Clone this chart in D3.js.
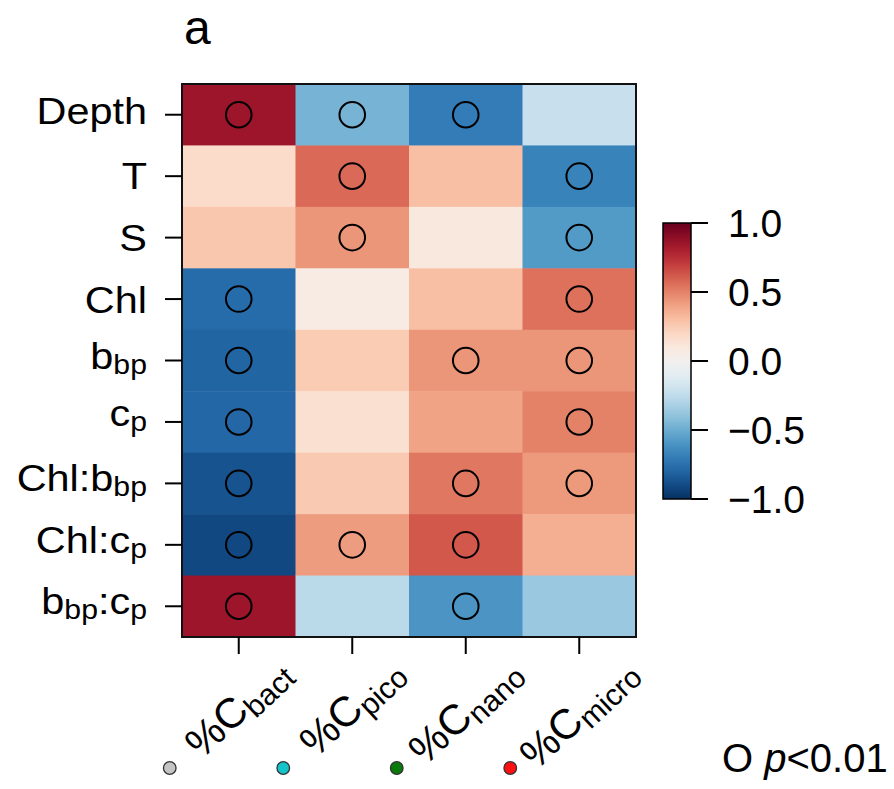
<!DOCTYPE html>
<html><head><meta charset="utf-8">
<script src="https://cdn.jsdelivr.net/npm/d3@7"></script>
<style>body{margin:0;background:#fff}svg{display:block}text{font-family:"Liberation Sans",Arial,sans-serif;fill:#000}</style>
</head><body><svg id="c" width="894" height="789"></svg>
<script>
const rowLabels = [["Depth"],["T"],["S"],["Chl"],["b","bp"],["c","p"],["Chl:b","bp"],["Chl:c","p"],["b","bp",":c","p"]];
const rowIds = ["Depth","T","S","Chl","bbp","cp","Chl:bbp","Chl:cp","bbp:cp"];
const cols = ["bact","pico","nano","micro"];
const colDots = ["#c4c4c4","#14c4c8","#0a7a0a","#ff1010"];
const vBact  = [0.85, 0.18, 0.27, -0.77, -0.80, -0.79, -0.87, -0.91, 0.85];
const vPico  = [-0.47, 0.57, 0.44, 0.07, 0.25, 0.15, 0.26, 0.42, -0.27];
const vNano  = [-0.70, 0.30, 0.10, 0.30, 0.44, 0.40, 0.53, 0.62, -0.60];
const vMicro = [-0.22, -0.67, -0.57, 0.55, 0.44, 0.50, 0.43, 0.36, -0.37];
const sigBact  = [1,0,0,1,1,1,1,1,1];
const sigPico  = [1,1,1,0,0,0,0,1,0];
const sigNano  = [1,0,0,0,1,0,1,1,1];
const sigMicro = [0,1,1,1,1,1,1,0,0];
const cbTicks = [1.0, 0.5, 0.0, -0.5, -1.0];

const vals = [vBact, vPico, vNano, vMicro];
const sigs = [sigBact, sigPico, sigNano, sigMicro];
const cells = [];
cols.forEach((c,j)=>rowIds.forEach((r,i)=>cells.push({r,c,v:vals[j][i],s:sigs[j][i]})));

const FONT = '"Liberation Sans",Arial,sans-serif';
const ctx = document.createElement("canvas").getContext("2d");
function glyph(txt,size){ ctx.font = size+"px "+FONT; const m=ctx.measureText(txt); return {a:m.actualBoundingBoxAscent,d:m.actualBoundingBoxDescent}; }

const svg = d3.select("#c");
const X0=182, X1=636, Y0=84, Y1=637;
const x = d3.scaleBand().domain(cols).range([X0,X1]);
const y = d3.scaleBand().domain(rowIds).range([Y0,Y1]);
const color = d3.scaleSequential(t=>d3.interpolateRdBu(t)).domain([1,-1]);

svg.append("text").attr("x",184).attr("y",44).attr("font-size",48).text("a");

svg.append("g").selectAll("rect").data(cells).join("rect")
  .attr("x",d=>x(d.c)).attr("y",d=>y(d.r)).attr("width",x.bandwidth()+0.5).attr("height",y.bandwidth()+0.5)
  .attr("fill",d=>color(d.v));
svg.append("g").selectAll("circle").data(cells.filter(d=>d.s)).join("circle")
  .attr("cx",d=>x(d.c)+x.bandwidth()/2).attr("cy",d=>y(d.r)+y.bandwidth()/2).attr("r",12.8)
  .attr("fill","none").attr("stroke","#000").attr("stroke-width",2);
svg.append("rect").attr("x",X0).attr("y",Y0).attr("width",X1-X0).attr("height",Y1-Y0)
  .attr("fill","none").attr("stroke","#111").attr("stroke-width",2);

// y axis
const YF=37, YS=27, SUBSHIFT=5, XSTRETCH=1.12;
const yg = svg.append("g");
rowIds.forEach((r,i)=>{
  const cy = y(r)+y.bandwidth()/2;
  yg.append("line").attr("x1",X0).attr("x2",X0-17).attr("y1",cy).attr("y2",cy).attr("stroke","#000").attr("stroke-width",2);
  const parts = rowLabels[i];
  let top=0, bot=0;
  parts.forEach((p,k)=>{
    if(k%2===0){ const g=glyph(p,YF); top=Math.max(top,g.a); bot=Math.max(bot,g.d); }
    else { const g=glyph(p,YS); top=Math.max(top,g.a-SUBSHIFT); bot=Math.max(bot,g.d+SUBSHIFT); }
  });
  const base = cy + (top - bot)/2;
  const t = yg.append("text").attr("transform",`translate(${X0-35},${base}) scale(${XSTRETCH},1)`)
    .attr("text-anchor","end").attr("font-size",YF);
  parts.forEach((p,k)=>{
    if(k%2===0) t.append("tspan").attr("dy", k===0?null:-SUBSHIFT).text(p);
    else t.append("tspan").attr("font-size",YS).attr("dy",SUBSHIFT).text(p);
  });
});

// x axis
const ANG = 43*Math.PI/180;
const xg = svg.append("g");
cols.forEach((c,j)=>{
  const cx = x(c)+x.bandwidth()/2;
  xg.append("line").attr("x1",cx).attr("x2",cx).attr("y1",Y1).attr("y2",Y1+17).attr("stroke","#000").attr("stroke-width",2);
  const t = xg.append("text").attr("font-size",42);
  t.append("tspan").text("%C");
  t.append("tspan").attr("font-size",30).attr("dy",7).text(c);
  const bb = t.node().getBBox();
  const cs=Math.cos(-ANG), sn=Math.sin(-ANG);
  const pts=[[bb.x,bb.y],[bb.x+bb.width,bb.y],[bb.x,bb.y+bb.height],[bb.x+bb.width,bb.y+bb.height]].map(([px,py])=>[px*cs-py*sn, px*sn+py*cs]);
  const minX=d3.min(pts,p=>p[0]), maxX=d3.max(pts,p=>p[0]), minY=d3.min(pts,p=>p[1]);
  const tx = cx - (minX+maxX)/2, ty = Y1+10 - minY;
  t.attr("transform",`translate(${tx},${ty}) rotate(${-ANG*180/Math.PI})`);
  xg.append("circle").attr("cx",cx-69).attr("cy",768).attr("r",6.3).attr("fill",colDots[j]).attr("stroke","#333").attr("stroke-width",1.3);
});

// colorbar
const CB = {x:663,w:28,y0:223,y1:499};
const defs = svg.append("defs");
const grad = defs.append("linearGradient").attr("id","g").attr("x1",0).attr("x2",0).attr("y1",0).attr("y2",1);
d3.range(0,1.0001,0.05).forEach(t=>grad.append("stop").attr("offset",t).attr("stop-color",d3.interpolateRdBu(t)));
svg.append("rect").attr("x",CB.x).attr("y",CB.y0).attr("width",CB.w).attr("height",CB.y1-CB.y0).attr("fill","url(#g)").attr("stroke","#000").attr("stroke-width",1.5);
const cbs = d3.scaleLinear().domain([1,-1]).range([CB.y0,CB.y1]);
cbTicks.forEach(v=>{
  const yy = cbs(v);
  svg.append("line").attr("x1",CB.x+CB.w).attr("x2",CB.x+CB.w+17).attr("y1",yy).attr("y2",yy).attr("stroke","#000").attr("stroke-width",2);
  svg.append("text").attr("x",CB.x+CB.w+37).attr("y",yy).attr("dy","0.36em").attr("font-size",39)
    .text(d3.format(".1f")(v).replace("-","−"));
});

// p legend
const pt = svg.append("text").attr("x",722).attr("y",772).attr("font-size",40);
pt.append("tspan").text("O ");
pt.append("tspan").attr("font-style","italic").text("p");
pt.append("tspan").text("<0.01");
</script></body></html>
